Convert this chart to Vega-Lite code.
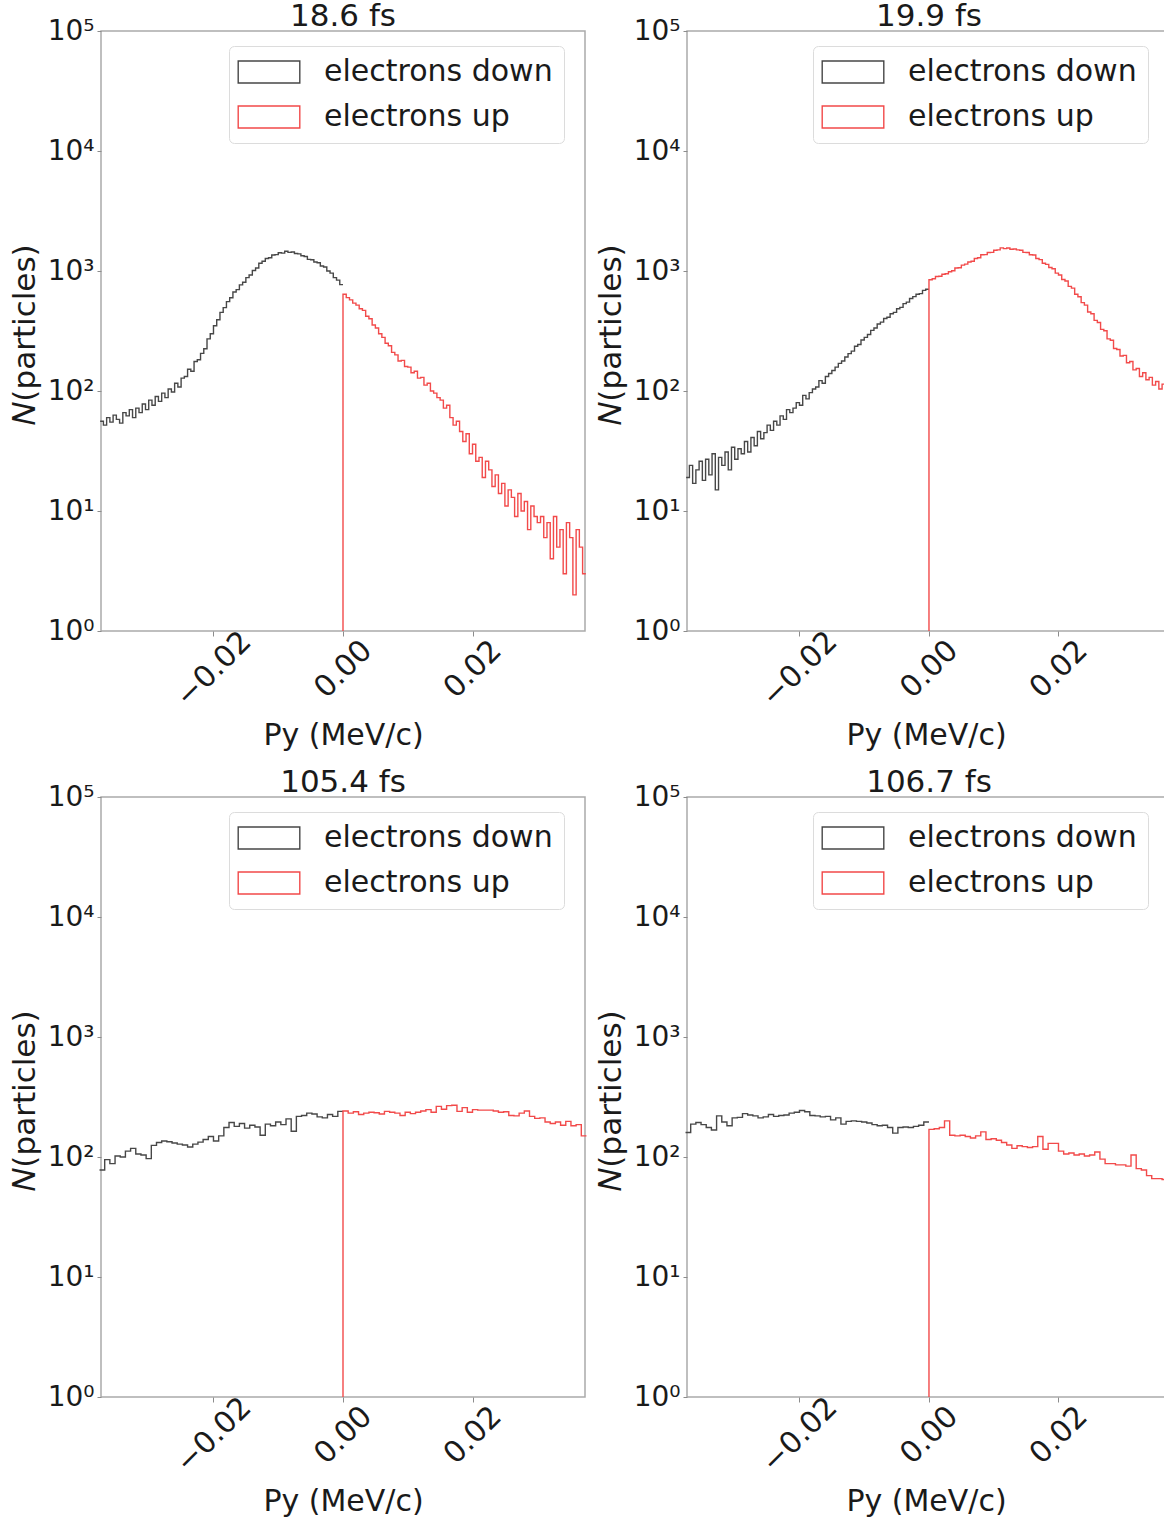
{
"$schema": "https://vega.github.io/schema/vega-lite/v6.json",
"background": "white",
"padding": {"left": 8, "top": 0, "right": 0, "bottom": 0},
"columns": 2,
"spacing": {"row": 166, "column": 102},
"bounds": "flush",
"resolve": {"scale": {"stroke": "independent"}, "legend": {"stroke": "independent"}},
"config": {
  "font": "DejaVu Sans",
  "view": {"stroke": "#aaaaaa", "strokeWidth": 1.5},
  "line": {"interpolate": "step-after", "strokeWidth": 1.4, "clip": true},
  "title": {"fontSize": 31, "fontWeight": "normal", "baseline": "alphabetic", "offset": -16, "color": "#1a1a1a", "anchor": "middle"},
  "axisX": {"labelAngle": -45, "labelAlign": "center", "labelBaseline": "middle", "labelFontSize": 30, "labelPadding": 33, "tickSize": 5, "tickColor": "#8c8c8c", "domain": false, "grid": false, "titleFontSize": 30, "titleFontWeight": "normal", "titleY": 113, "titleBaseline": "alphabetic", "labelColor": "#1a1a1a", "titleColor": "#1a1a1a", "labelFlush": false, "labelOverlap": false},
  "axisY": {"labelFontSize": 28, "labelPadding": 3, "tickSize": 4, "tickColor": "#8c8c8c", "domain": false, "grid": false, "titleFontSize": 31, "titleFontWeight": "normal", "titleX": -67, "titleY": 303, "titleBaseline": "alphabetic", "titleAngle": -90, "titleAlign": "center", "labelColor": "#1a1a1a", "titleColor": "#1a1a1a", "labelOverlap": false},
  "legend": {"symbolType": "M-2.8,-1H2.8V1H-2.8Z", "symbolSize": 484, "symbolOffset": 14, "symbolStrokeWidth": 1.3, "symbolFillColor": "transparent", "labelFontSize": 30, "labelOffset": 40, "rowPadding": 15, "padding": 11, "fillColor": "white", "strokeColor": "#dcdcdc", "cornerRadius": 5, "labelLimit": 500, "labelColor": "#1a1a1a"}
},
"datasets": {
"a_down": [{"x":-0.0375,"n":56},{"x":-0.037,"n":52},{"x":-0.0365,"n":60},{"x":-0.036,"n":55},{"x":-0.0355,"n":63},{"x":-0.035,"n":58},{"x":-0.0345,"n":54},{"x":-0.034,"n":66},{"x":-0.0335,"n":62},{"x":-0.033,"n":70},{"x":-0.0325,"n":60},{"x":-0.032,"n":72},{"x":-0.0315,"n":66},{"x":-0.031,"n":78},{"x":-0.0305,"n":70},{"x":-0.03,"n":84},{"x":-0.0295,"n":76},{"x":-0.029,"n":90},{"x":-0.0285,"n":82},{"x":-0.028,"n":96},{"x":-0.0275,"n":88},{"x":-0.027,"n":104},{"x":-0.0265,"n":98},{"x":-0.026,"n":116},{"x":-0.0255,"n":108},{"x":-0.025,"n":128},{"x":-0.0245,"n":132},{"x":-0.024,"n":152},{"x":-0.0235,"n":146},{"x":-0.023,"n":176},{"x":-0.0225,"n":182},{"x":-0.022,"n":206},{"x":-0.0215,"n":225},{"x":-0.021,"n":272},{"x":-0.0205,"n":300},{"x":-0.02,"n":350},{"x":-0.0195,"n":392},{"x":-0.019,"n":452},{"x":-0.0185,"n":495},{"x":-0.018,"n":556},{"x":-0.0175,"n":598},{"x":-0.017,"n":668},{"x":-0.0165,"n":700},{"x":-0.016,"n":766},{"x":-0.0155,"n":805},{"x":-0.015,"n":880},{"x":-0.0145,"n":925},{"x":-0.014,"n":1010},{"x":-0.0135,"n":1060},{"x":-0.013,"n":1160},{"x":-0.0125,"n":1205},{"x":-0.012,"n":1270},{"x":-0.0115,"n":1290},{"x":-0.011,"n":1360},{"x":-0.0105,"n":1370},{"x":-0.01,"n":1420},{"x":-0.0095,"n":1410},{"x":-0.009,"n":1460},{"x":-0.0085,"n":1430},{"x":-0.008,"n":1440},{"x":-0.0075,"n":1400},{"x":-0.007,"n":1390},{"x":-0.0065,"n":1340},{"x":-0.006,"n":1320},{"x":-0.0055,"n":1250},{"x":-0.005,"n":1240},{"x":-0.0045,"n":1190},{"x":-0.004,"n":1170},{"x":-0.0035,"n":1100},{"x":-0.003,"n":1080},{"x":-0.0025,"n":1000},{"x":-0.002,"n":960},{"x":-0.0015,"n":880},{"x":-0.001,"n":840},{"x":-0.0005,"n":770},{"x":0,"n":770}],
"a_up": [{"x":0,"n":1},{"x":0,"n":640},{"x":0.0005,"n":600},{"x":0.001,"n":575},{"x":0.0015,"n":540},{"x":0.002,"n":520},{"x":0.0025,"n":485},{"x":0.003,"n":470},{"x":0.0035,"n":420},{"x":0.004,"n":400},{"x":0.0045,"n":355},{"x":0.005,"n":335},{"x":0.0055,"n":300},{"x":0.006,"n":280},{"x":0.0065,"n":250},{"x":0.007,"n":238},{"x":0.0075,"n":210},{"x":0.008,"n":200},{"x":0.0085,"n":178},{"x":0.009,"n":180},{"x":0.0095,"n":160},{"x":0.01,"n":158},{"x":0.0105,"n":142},{"x":0.011,"n":146},{"x":0.0115,"n":128},{"x":0.012,"n":130},{"x":0.0125,"n":112},{"x":0.013,"n":116},{"x":0.0135,"n":100},{"x":0.014,"n":96},{"x":0.0145,"n":88},{"x":0.015,"n":84},{"x":0.0155,"n":72},{"x":0.016,"n":76},{"x":0.0165,"n":60},{"x":0.017,"n":52},{"x":0.0175,"n":56},{"x":0.018,"n":46},{"x":0.0185,"n":38},{"x":0.019,"n":44},{"x":0.0195,"n":30},{"x":0.02,"n":36},{"x":0.0205,"n":26},{"x":0.021,"n":28},{"x":0.0215,"n":19},{"x":0.022,"n":26},{"x":0.0225,"n":22},{"x":0.023,"n":16},{"x":0.0235,"n":20},{"x":0.024,"n":14},{"x":0.0245,"n":17},{"x":0.025,"n":11},{"x":0.0255,"n":15},{"x":0.026,"n":13},{"x":0.0265,"n":9},{"x":0.027,"n":14},{"x":0.0275,"n":10},{"x":0.028,"n":12},{"x":0.0285,"n":7},{"x":0.029,"n":11},{"x":0.0295,"n":9},{"x":0.03,"n":8},{"x":0.0305,"n":9},{"x":0.031,"n":6},{"x":0.0315,"n":8},{"x":0.032,"n":4},{"x":0.0325,"n":9},{"x":0.033,"n":5},{"x":0.0335,"n":7},{"x":0.034,"n":3},{"x":0.0345,"n":8},{"x":0.035,"n":6},{"x":0.0355,"n":2},{"x":0.036,"n":7},{"x":0.0365,"n":5},{"x":0.037,"n":3},{"x":0.0375,"n":3}],
"b_down": [{"x":-0.0375,"n":19},{"x":-0.037,"n":24},{"x":-0.0365,"n":17},{"x":-0.036,"n":22},{"x":-0.0355,"n":26},{"x":-0.035,"n":18},{"x":-0.0345,"n":27},{"x":-0.034,"n":20},{"x":-0.0335,"n":30},{"x":-0.033,"n":15},{"x":-0.0325,"n":28},{"x":-0.032,"n":24},{"x":-0.0315,"n":31},{"x":-0.031,"n":22},{"x":-0.0305,"n":34},{"x":-0.03,"n":27},{"x":-0.0295,"n":33},{"x":-0.029,"n":30},{"x":-0.0285,"n":38},{"x":-0.028,"n":31},{"x":-0.0275,"n":41},{"x":-0.027,"n":35},{"x":-0.0265,"n":46},{"x":-0.026,"n":40},{"x":-0.0255,"n":45},{"x":-0.025,"n":52},{"x":-0.0245,"n":47},{"x":-0.024,"n":56},{"x":-0.0235,"n":52},{"x":-0.023,"n":62},{"x":-0.0225,"n":58},{"x":-0.022,"n":70},{"x":-0.0215,"n":66},{"x":-0.021,"n":72},{"x":-0.0205,"n":80},{"x":-0.02,"n":76},{"x":-0.0195,"n":92},{"x":-0.019,"n":86},{"x":-0.0185,"n":97},{"x":-0.018,"n":104},{"x":-0.0175,"n":108},{"x":-0.017,"n":122},{"x":-0.0165,"n":116},{"x":-0.016,"n":132},{"x":-0.0155,"n":140},{"x":-0.015,"n":148},{"x":-0.0145,"n":158},{"x":-0.014,"n":170},{"x":-0.0135,"n":178},{"x":-0.013,"n":192},{"x":-0.0125,"n":205},{"x":-0.012,"n":215},{"x":-0.0115,"n":236},{"x":-0.011,"n":244},{"x":-0.0105,"n":266},{"x":-0.01,"n":280},{"x":-0.0095,"n":296},{"x":-0.009,"n":320},{"x":-0.0085,"n":335},{"x":-0.008,"n":362},{"x":-0.0075,"n":375},{"x":-0.007,"n":402},{"x":-0.0065,"n":412},{"x":-0.006,"n":440},{"x":-0.0055,"n":452},{"x":-0.005,"n":485},{"x":-0.0045,"n":498},{"x":-0.004,"n":535},{"x":-0.0035,"n":550},{"x":-0.003,"n":590},{"x":-0.0025,"n":612},{"x":-0.002,"n":640},{"x":-0.0015,"n":648},{"x":-0.001,"n":690},{"x":-0.0005,"n":705},{"x":0,"n":705}],
"b_up": [{"x":0,"n":1},{"x":0,"n":845},{"x":0.0005,"n":862},{"x":0.001,"n":900},{"x":0.0015,"n":905},{"x":0.002,"n":940},{"x":0.0025,"n":948},{"x":0.003,"n":985},{"x":0.0035,"n":1005},{"x":0.004,"n":1060},{"x":0.0045,"n":1065},{"x":0.005,"n":1120},{"x":0.0055,"n":1140},{"x":0.006,"n":1190},{"x":0.0065,"n":1205},{"x":0.007,"n":1270},{"x":0.0075,"n":1290},{"x":0.008,"n":1365},{"x":0.0085,"n":1370},{"x":0.009,"n":1425},{"x":0.0095,"n":1430},{"x":0.01,"n":1490},{"x":0.0105,"n":1500},{"x":0.011,"n":1560},{"x":0.0115,"n":1535},{"x":0.012,"n":1555},{"x":0.0125,"n":1520},{"x":0.013,"n":1525},{"x":0.0135,"n":1500},{"x":0.014,"n":1490},{"x":0.0145,"n":1430},{"x":0.015,"n":1425},{"x":0.0155,"n":1365},{"x":0.016,"n":1360},{"x":0.0165,"n":1270},{"x":0.017,"n":1245},{"x":0.0175,"n":1160},{"x":0.018,"n":1135},{"x":0.0185,"n":1070},{"x":0.019,"n":1045},{"x":0.0195,"n":960},{"x":0.02,"n":925},{"x":0.0205,"n":850},{"x":0.021,"n":825},{"x":0.0215,"n":745},{"x":0.022,"n":720},{"x":0.0225,"n":640},{"x":0.023,"n":610},{"x":0.0235,"n":545},{"x":0.024,"n":520},{"x":0.0245,"n":455},{"x":0.025,"n":440},{"x":0.0255,"n":388},{"x":0.026,"n":372},{"x":0.0265,"n":326},{"x":0.027,"n":318},{"x":0.0275,"n":272},{"x":0.028,"n":265},{"x":0.0285,"n":226},{"x":0.029,"n":222},{"x":0.0295,"n":196},{"x":0.03,"n":198},{"x":0.0305,"n":172},{"x":0.031,"n":176},{"x":0.0315,"n":150},{"x":0.032,"n":154},{"x":0.0325,"n":132},{"x":0.033,"n":142},{"x":0.0335,"n":124},{"x":0.034,"n":130},{"x":0.0345,"n":112},{"x":0.035,"n":120},{"x":0.0355,"n":104},{"x":0.036,"n":114},{"x":0.0365,"n":100},{"x":0.037,"n":100}],
"c_down": [{"x":-0.0376,"n":78},{"x":-0.0368,"n":95},{"x":-0.036,"n":88},{"x":-0.0352,"n":102},{"x":-0.0344,"n":100},{"x":-0.0336,"n":112},{"x":-0.0328,"n":118},{"x":-0.032,"n":106},{"x":-0.0312,"n":104},{"x":-0.0304,"n":97},{"x":-0.0296,"n":125},{"x":-0.0288,"n":132},{"x":-0.028,"n":136},{"x":-0.0272,"n":134},{"x":-0.0264,"n":131},{"x":-0.0256,"n":128},{"x":-0.0248,"n":126},{"x":-0.024,"n":121},{"x":-0.0232,"n":128},{"x":-0.0224,"n":133},{"x":-0.0216,"n":140},{"x":-0.0208,"n":148},{"x":-0.02,"n":136},{"x":-0.0192,"n":150},{"x":-0.0184,"n":176},{"x":-0.0176,"n":194},{"x":-0.0168,"n":180},{"x":-0.016,"n":190},{"x":-0.0152,"n":174},{"x":-0.0144,"n":184},{"x":-0.0136,"n":178},{"x":-0.0128,"n":152},{"x":-0.012,"n":188},{"x":-0.0112,"n":182},{"x":-0.0104,"n":196},{"x":-0.0096,"n":186},{"x":-0.0088,"n":208},{"x":-0.008,"n":164},{"x":-0.0072,"n":218},{"x":-0.0064,"n":222},{"x":-0.0056,"n":232},{"x":-0.0048,"n":228},{"x":-0.004,"n":216},{"x":-0.0032,"n":212},{"x":-0.0024,"n":226},{"x":-0.0016,"n":218},{"x":-0.0008,"n":240},{"x":0,"n":240}],
"c_up": [{"x":0,"n":1},{"x":0,"n":242},{"x":0.0008,"n":232},{"x":0.0016,"n":238},{"x":0.0024,"n":226},{"x":0.0032,"n":232},{"x":0.004,"n":236},{"x":0.0048,"n":234},{"x":0.0056,"n":228},{"x":0.0064,"n":240},{"x":0.0072,"n":236},{"x":0.008,"n":232},{"x":0.0088,"n":222},{"x":0.0096,"n":236},{"x":0.0104,"n":230},{"x":0.0112,"n":236},{"x":0.012,"n":242},{"x":0.0128,"n":248},{"x":0.0136,"n":236},{"x":0.0144,"n":264},{"x":0.0152,"n":250},{"x":0.016,"n":268},{"x":0.0168,"n":270},{"x":0.0176,"n":240},{"x":0.0184,"n":258},{"x":0.0192,"n":236},{"x":0.02,"n":248},{"x":0.0208,"n":246},{"x":0.0216,"n":246},{"x":0.0224,"n":246},{"x":0.0232,"n":242},{"x":0.024,"n":236},{"x":0.0248,"n":238},{"x":0.0256,"n":222},{"x":0.0264,"n":220},{"x":0.0272,"n":232},{"x":0.028,"n":242},{"x":0.0288,"n":218},{"x":0.0296,"n":210},{"x":0.0304,"n":212},{"x":0.0312,"n":196},{"x":0.032,"n":190},{"x":0.0328,"n":196},{"x":0.0336,"n":184},{"x":0.0344,"n":198},{"x":0.0352,"n":182},{"x":0.036,"n":186},{"x":0.0368,"n":150},{"x":0.0376,"n":150}],
"d_down": [{"x":-0.0376,"n":160},{"x":-0.0368,"n":188},{"x":-0.036,"n":194},{"x":-0.0352,"n":186},{"x":-0.0344,"n":176},{"x":-0.0336,"n":168},{"x":-0.0328,"n":220},{"x":-0.032,"n":196},{"x":-0.0312,"n":182},{"x":-0.0304,"n":212},{"x":-0.0296,"n":214},{"x":-0.0288,"n":230},{"x":-0.028,"n":224},{"x":-0.0272,"n":220},{"x":-0.0264,"n":212},{"x":-0.0256,"n":216},{"x":-0.0248,"n":226},{"x":-0.024,"n":218},{"x":-0.0232,"n":222},{"x":-0.0224,"n":224},{"x":-0.0216,"n":232},{"x":-0.0208,"n":236},{"x":-0.02,"n":244},{"x":-0.0192,"n":238},{"x":-0.0184,"n":222},{"x":-0.0176,"n":220},{"x":-0.0168,"n":216},{"x":-0.016,"n":218},{"x":-0.0152,"n":204},{"x":-0.0144,"n":212},{"x":-0.0136,"n":188},{"x":-0.0128,"n":198},{"x":-0.012,"n":200},{"x":-0.0112,"n":198},{"x":-0.0104,"n":196},{"x":-0.0096,"n":192},{"x":-0.0088,"n":186},{"x":-0.008,"n":182},{"x":-0.0072,"n":184},{"x":-0.0064,"n":176},{"x":-0.0056,"n":158},{"x":-0.0048,"n":176},{"x":-0.004,"n":178},{"x":-0.0032,"n":176},{"x":-0.0024,"n":180},{"x":-0.0016,"n":184},{"x":-0.0008,"n":196},{"x":0,"n":196}],
"d_up": [{"x":0,"n":1},{"x":0,"n":170},{"x":0.0008,"n":172},{"x":0.0016,"n":176},{"x":0.0024,"n":200},{"x":0.0032,"n":152},{"x":0.004,"n":150},{"x":0.0048,"n":152},{"x":0.0056,"n":148},{"x":0.0064,"n":144},{"x":0.0072,"n":150},{"x":0.008,"n":162},{"x":0.0088,"n":140},{"x":0.0096,"n":142},{"x":0.0104,"n":138},{"x":0.0112,"n":132},{"x":0.012,"n":126},{"x":0.0128,"n":118},{"x":0.0136,"n":124},{"x":0.0144,"n":122},{"x":0.0152,"n":120},{"x":0.016,"n":122},{"x":0.0168,"n":148},{"x":0.0176,"n":116},{"x":0.0184,"n":130},{"x":0.0192,"n":130},{"x":0.02,"n":112},{"x":0.0208,"n":106},{"x":0.0216,"n":108},{"x":0.0224,"n":104},{"x":0.0232,"n":106},{"x":0.024,"n":102},{"x":0.0248,"n":104},{"x":0.0256,"n":110},{"x":0.0264,"n":96},{"x":0.0272,"n":88},{"x":0.028,"n":88},{"x":0.0288,"n":86},{"x":0.0296,"n":86},{"x":0.0304,"n":84},{"x":0.0312,"n":104},{"x":0.032,"n":80},{"x":0.0328,"n":78},{"x":0.0336,"n":70},{"x":0.0344,"n":66},{"x":0.0352,"n":66},{"x":0.036,"n":65},{"x":0.0368,"n":65}]
},
"concat": [
{
 "title": {"text": "18.6 fs"},
 "width": 484, "height": 600,
 "encoding": {
  "x": {"field": "x", "type": "quantitative", "title": "Py (MeV/c)", "scale": {"domain": [-0.03737, 0.03737], "nice": false, "zero": false}, "axis": {"values": [-0.02, 0, 0.02], "labelExpr": "datum.value < 0 ? '−' + format(-datum.value, '.2f') : format(datum.value, '.2f')"}},
  "y": {"field": "n", "type": "quantitative", "title": "𝑁(particles)", "scale": {"type": "log", "domain": [1, 100000], "nice": false}, "axis": {"values": [1, 10, 100, 1000, 10000, 100000], "labelExpr": "'10' + (datum.value >= 99999 ? '⁵' : datum.value >= 9999 ? '⁴' : datum.value >= 999 ? '³' : datum.value >= 99 ? '²' : datum.value >= 9 ? '¹' : '⁰')"}}
 },
 "layer": [
  {"data": {"name": "a_down"}, "mark": {"type": "line"}, "encoding": {"stroke": {"datum": "electrons down", "type": "nominal", "scale": {"domain": ["electrons down", "electrons up"], "range": ["#474747", "#f24a4a"]}, "legend": {"orient": "none", "legendX": 128, "legendY": 15, "title": null}}}},
  {"data": {"name": "a_up"}, "mark": {"type": "line"}, "encoding": {"stroke": {"datum": "electrons up", "type": "nominal", "scale": {"domain": ["electrons down", "electrons up"], "range": ["#474747", "#f24a4a"]}, "legend": {"orient": "none", "legendX": 128, "legendY": 15, "title": null}}}}
 ]
},
{
 "title": {"text": "19.9 fs", "dx": 3},
 "width": 478, "height": 600,
 "encoding": {
  "x": {"field": "x", "type": "quantitative", "title": "Py (MeV/c)", "scale": {"domain": [-0.03737, 0.03645], "nice": false, "zero": false}, "axis": {"values": [-0.02, 0, 0.02], "labelExpr": "datum.value < 0 ? '−' + format(-datum.value, '.2f') : format(datum.value, '.2f')"}},
  "y": {"field": "n", "type": "quantitative", "title": "𝑁(particles)", "scale": {"type": "log", "domain": [1, 100000], "nice": false}, "axis": {"values": [1, 10, 100, 1000, 10000, 100000], "labelExpr": "'10' + (datum.value >= 99999 ? '⁵' : datum.value >= 9999 ? '⁴' : datum.value >= 999 ? '³' : datum.value >= 99 ? '²' : datum.value >= 9 ? '¹' : '⁰')"}}
 },
 "layer": [
  {"data": {"name": "b_down"}, "mark": {"type": "line"}, "encoding": {"stroke": {"datum": "electrons down", "type": "nominal", "scale": {"domain": ["electrons down", "electrons up"], "range": ["#474747", "#f24a4a"]}, "legend": {"orient": "none", "legendX": 126, "legendY": 15, "title": null}}}},
  {"data": {"name": "b_up"}, "mark": {"type": "line"}, "encoding": {"stroke": {"datum": "electrons up", "type": "nominal", "scale": {"domain": ["electrons down", "electrons up"], "range": ["#474747", "#f24a4a"]}, "legend": {"orient": "none", "legendX": 126, "legendY": 15, "title": null}}}}
 ]
},
{
 "title": {"text": "105.4 fs"},
 "width": 484, "height": 600,
 "encoding": {
  "x": {"field": "x", "type": "quantitative", "title": "Py (MeV/c)", "scale": {"domain": [-0.03737, 0.03737], "nice": false, "zero": false}, "axis": {"values": [-0.02, 0, 0.02], "labelExpr": "datum.value < 0 ? '−' + format(-datum.value, '.2f') : format(datum.value, '.2f')"}},
  "y": {"field": "n", "type": "quantitative", "title": "𝑁(particles)", "scale": {"type": "log", "domain": [1, 100000], "nice": false}, "axis": {"values": [1, 10, 100, 1000, 10000, 100000], "labelExpr": "'10' + (datum.value >= 99999 ? '⁵' : datum.value >= 9999 ? '⁴' : datum.value >= 999 ? '³' : datum.value >= 99 ? '²' : datum.value >= 9 ? '¹' : '⁰')"}}
 },
 "layer": [
  {"data": {"name": "c_down"}, "mark": {"type": "line"}, "encoding": {"stroke": {"datum": "electrons down", "type": "nominal", "scale": {"domain": ["electrons down", "electrons up"], "range": ["#474747", "#f24a4a"]}, "legend": {"orient": "none", "legendX": 128, "legendY": 15, "title": null}}}},
  {"data": {"name": "c_up"}, "mark": {"type": "line"}, "encoding": {"stroke": {"datum": "electrons up", "type": "nominal", "scale": {"domain": ["electrons down", "electrons up"], "range": ["#474747", "#f24a4a"]}, "legend": {"orient": "none", "legendX": 128, "legendY": 15, "title": null}}}}
 ]
},
{
 "title": {"text": "106.7 fs", "dx": 3},
 "width": 478, "height": 600,
 "encoding": {
  "x": {"field": "x", "type": "quantitative", "title": "Py (MeV/c)", "scale": {"domain": [-0.03737, 0.03645], "nice": false, "zero": false}, "axis": {"values": [-0.02, 0, 0.02], "labelExpr": "datum.value < 0 ? '−' + format(-datum.value, '.2f') : format(datum.value, '.2f')"}},
  "y": {"field": "n", "type": "quantitative", "title": "𝑁(particles)", "scale": {"type": "log", "domain": [1, 100000], "nice": false}, "axis": {"values": [1, 10, 100, 1000, 10000, 100000], "labelExpr": "'10' + (datum.value >= 99999 ? '⁵' : datum.value >= 9999 ? '⁴' : datum.value >= 999 ? '³' : datum.value >= 99 ? '²' : datum.value >= 9 ? '¹' : '⁰')"}}
 },
 "layer": [
  {"data": {"name": "d_down"}, "mark": {"type": "line"}, "encoding": {"stroke": {"datum": "electrons down", "type": "nominal", "scale": {"domain": ["electrons down", "electrons up"], "range": ["#474747", "#f24a4a"]}, "legend": {"orient": "none", "legendX": 126, "legendY": 15, "title": null}}}},
  {"data": {"name": "d_up"}, "mark": {"type": "line"}, "encoding": {"stroke": {"datum": "electrons up", "type": "nominal", "scale": {"domain": ["electrons down", "electrons up"], "range": ["#474747", "#f24a4a"]}, "legend": {"orient": "none", "legendX": 126, "legendY": 15, "title": null}}}}
 ]
}
]
}
